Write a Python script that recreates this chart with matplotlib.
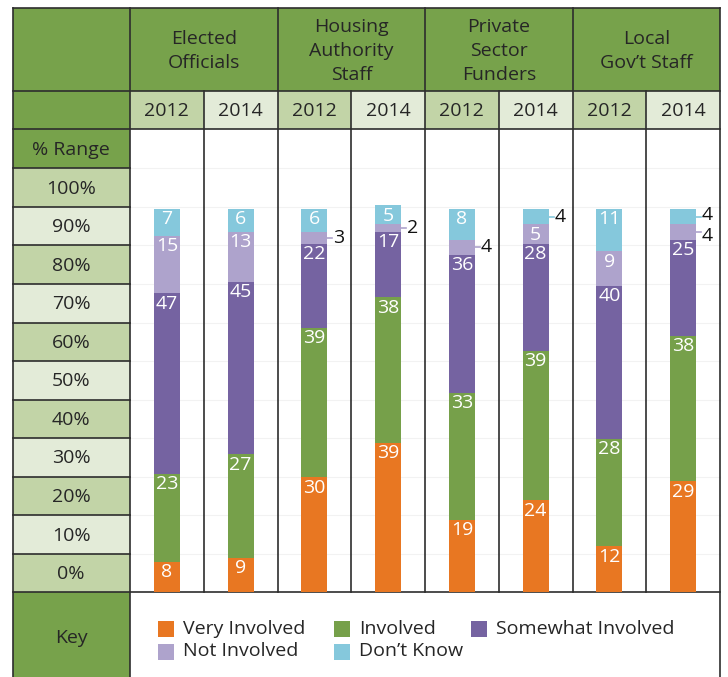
import numpy as np
import matplotlib.pyplot as plt
from matplotlib.patches import Rectangle

plt.rcParams['font.family'] = ['Open Sans', 'DejaVu Sans']

# data
groups = ["Elected\nOfficials", "Housing\nAuthority\nStaff", "Private\nSector\nFunders", "Local\nGov’t Staff"]
years = ["2012", "2014"]
series = ["Very Involved", "Involved", "Somewhat Involved", "Not Involved", "Don’t Know"]
very_involved = [8, 9, 30, 39, 19, 24, 12, 29]
involved = [23, 27, 39, 38, 33, 39, 28, 38]
somewhat_involved = [47, 45, 22, 17, 36, 28, 40, 25]
not_involved = [15, 13, 3, 2, 4, 5, 9, 4]
dont_know = [7, 6, 6, 5, 8, 4, 11, 4]
range_labels = ["100%", "90%", "80%", "70%", "60%", "50%", "40%", "30%", "20%", "10%", "0%"]

colors = ["#e87722", "#76a04a", "#7563a1", "#aea3cc", "#85c8dc"]
header_green = "#77a24b"
cell_dark = "#c2d4a7"
cell_light = "#e3ebd8"
line_c = "#2d2d2d"
text_c = "#262626"

W, H = 728, 677
fig = plt.figure(figsize=(W / 100, H / 100), dpi=100)

# table background, pixel coordinates
bg = fig.add_axes([0, 0, 1, 1])
bg.set_xlim(0, W)
bg.set_ylim(H, 0)
bg.axis('off')

x0, x1, xr = 12.5, 130, 720
sub_w = (xr - x1) / 8
y_top, y_head, y_year, y_rng = 7.5, 91, 129.3, 168.3
row_h = 38.55
y_bot = y_rng + row_h * 11

def cell(x, y, w, h, c):
    bg.add_patch(Rectangle((x, y), w, h, facecolor=c, edgecolor='none'))

cell(x0, y_top, x1 - x0, y_rng - y_top, header_green)
cell(x1, y_top, xr - x1, y_head - y_top, header_green)
for i in range(8):
    cell(x1 + i * sub_w, y_head, sub_w, y_year - y_head, cell_dark if i % 2 == 0 else cell_light)
for i in range(11):
    cell(x0, y_rng + i * row_h, x1 - x0, row_h, cell_dark if i % 2 == 0 else cell_light)
cell(x0, y_bot, x1 - x0, H - y_bot, header_green)

# very faint row lines in the bar area
for i in range(11):
    y = y_rng + i * row_h
    bg.plot([x1, xr], [y, y], color='#f2f2f2', lw=0.8, zorder=1)

lw = 1.2
for x in [x0, x1, xr]:
    bg.plot([x, x], [y_top, H], color=line_c, lw=lw)
for i in range(1, 8):
    x = x1 + i * sub_w
    bg.plot([x, x], [y_top if i % 2 == 0 else y_head, y_bot], color=line_c, lw=lw)
for y in [y_top, y_head, y_year, y_bot]:
    bg.plot([x0, xr], [y, y], color=line_c, lw=lw)
for i in range(11):
    y = y_rng + i * row_h
    bg.plot([x0, x1], [y, y], color=line_c, lw=lw)

fs = 14
for i, g in enumerate(groups):
    bg.text(x1 + (2 * i + 1) * sub_w, 51, g, ha='center', va='center',
            fontsize=fs, color=text_c, linespacing=1.45)
for i in range(8):
    bg.text(x1 + (i + 0.5) * sub_w, (y_head + y_year) / 2 + 1, years[i % 2], ha='center',
            va='center', fontsize=fs, color=text_c)
bg.text((x0 + x1) / 2, (y_year + y_rng) / 2 + 1, "% Range", ha='center', va='center',
        fontsize=fs, color=text_c)
for i, lab in enumerate(range_labels):
    bg.text((x0 + x1) / 2, y_rng + (i + 0.5) * row_h + 1, lab, ha='center', va='center',
            fontsize=fs, color=text_c)
bg.text((x0 + x1) / 2, 638, "Key", ha='center', va='center', fontsize=fs, color=text_c)

# legend
leg_pos = [(158, 629), (334, 629), (471, 629), (158, 651.5), (334, 651.5)]
for (lx, ly), name, c in zip(leg_pos, series, colors):
    bg.add_patch(Rectangle((lx, ly - 8), 16, 16, facecolor=c, edgecolor='none'))
    bg.text(lx + 25, ly, name, ha='left', va='center', fontsize=fs, color=text_c)

# bars
bar_bottom_px, bar_top_px = y_bot, 209
ax = fig.add_axes([x1 / W, (H - bar_bottom_px) / H, (xr - x1) / W,
                   (bar_bottom_px - bar_top_px) / H])
ax.set_xlim(-0.5, 7.5)
ax.set_ylim(0, 100)
ax.axis('off')
ax.patch.set_alpha(0)

xs = np.arange(8)
stack = [very_involved, involved, somewhat_involved, not_involved, dont_know]
small = np.array(stack) < 5
bottom = np.zeros(8)
bw = 0.35
for k, (vals, c) in enumerate(zip(stack, colors)):
    vals = np.array(vals, dtype=float)
    ax.bar(xs, vals, bottom=bottom, width=bw, color=c, clip_on=False, zorder=3)
    for xi, v, b in zip(xs, vals, bottom):
        if v >= 5:
            ax.annotate(f"{int(v)}", (xi, b + v), xytext=(0, -7.5), textcoords='offset points',
                        ha='center', va='center', color='white', fontsize=fs, zorder=4,
                        annotation_clip=False)
        else:
            ym = b + v / 2
            # spread two neighbouring outside labels apart
            dy = 0
            if k + 1 < len(stack) and small[k + 1][xi]:
                dy = -3
            elif k > 0 and small[k - 1][xi]:
                dy = 1.5
            ax.plot([xi + bw / 2, xi + bw / 2 + 0.07], [ym, ym], color=c, lw=1.2,
                    clip_on=False, zorder=4)
            ax.annotate(f"{int(v)}", (xi + bw / 2 + 0.08, ym), xytext=(0, dy),
                        textcoords='offset points', ha='left', va='center',
                        color='#111111', fontsize=fs, zorder=4, annotation_clip=False)
    bottom += vals

fig.savefig("out.png", dpi=100)
